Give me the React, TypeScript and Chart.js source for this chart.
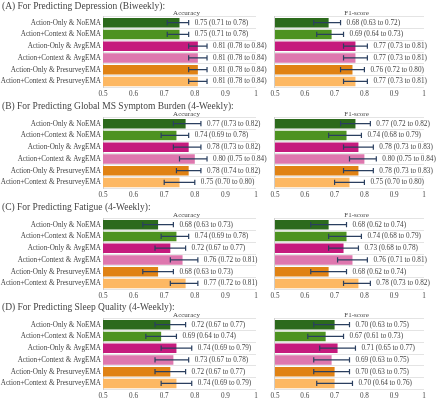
import React, { useEffect, useRef } from 'react';
import { Chart, registerables } from 'chart.js';

Chart.register(...registerables);

// ---------- data ----------
const categories = [
  'Action-Only & NoEMA',
  'Action+Context & NoEMA',
  'Action-Only & AvgEMA',
  'Action+Context & AvgEMA',
  'Action-Only & PresurveyEMA',
  'Action+Context & PresurveyEMA',
];
const barColors = ['#2c6a1c', '#4d9221', '#c51b7d', '#de77ae', '#e08214', '#fdb863'];
const xTickValues = [0.5, 0.6, 0.7, 0.8, 0.9, 1];
const panelTitles = [
  '(A) For Predicting Depression (Biweekly):',
  '(B) For Predicting Global MS Symptom Burden (4-Weekly):',
  '(C) For Predicting Fatigue (4-Weekly):',
  '(D) For Predicting Sleep Quality (4-Weekly):',
];
const metricTitles = ['Accuracy', 'F1-score'];

// (A) Depression
const depressionAcc = [0.75, 0.75, 0.81, 0.81, 0.81, 0.81];
const depressionAccLow = [0.71, 0.71, 0.78, 0.78, 0.78, 0.78];
const depressionAccHigh = [0.78, 0.78, 0.84, 0.84, 0.84, 0.84];
const depressionF1 = [0.68, 0.69, 0.77, 0.77, 0.76, 0.77];
const depressionF1Low = [0.63, 0.64, 0.73, 0.73, 0.72, 0.73];
const depressionF1High = [0.72, 0.73, 0.81, 0.81, 0.8, 0.81];

// (B) Global MS symptom burden
const burdenAcc = [0.77, 0.74, 0.78, 0.8, 0.78, 0.75];
const burdenAccLow = [0.73, 0.69, 0.73, 0.75, 0.74, 0.7];
const burdenAccHigh = [0.82, 0.78, 0.82, 0.84, 0.82, 0.8];
const burdenF1 = [0.77, 0.74, 0.78, 0.8, 0.78, 0.75];
const burdenF1Low = [0.72, 0.68, 0.73, 0.75, 0.73, 0.7];
const burdenF1High = [0.82, 0.79, 0.83, 0.84, 0.83, 0.8];

// (C) Fatigue
const fatigueAcc = [0.68, 0.74, 0.72, 0.76, 0.68, 0.77];
const fatigueAccLow = [0.63, 0.69, 0.67, 0.72, 0.63, 0.72];
const fatigueAccHigh = [0.73, 0.78, 0.77, 0.81, 0.73, 0.81];
const fatigueF1 = [0.68, 0.74, 0.73, 0.76, 0.68, 0.78];
const fatigueF1Low = [0.62, 0.68, 0.68, 0.71, 0.62, 0.73];
const fatigueF1High = [0.74, 0.79, 0.78, 0.81, 0.74, 0.82];

// (D) Sleep quality
const sleepAcc = [0.72, 0.69, 0.74, 0.73, 0.72, 0.74];
const sleepAccLow = [0.67, 0.64, 0.69, 0.67, 0.67, 0.69];
const sleepAccHigh = [0.77, 0.74, 0.79, 0.78, 0.77, 0.79];
const sleepF1 = [0.7, 0.67, 0.71, 0.69, 0.7, 0.7];
const sleepF1Low = [0.63, 0.61, 0.65, 0.63, 0.63, 0.64];
const sleepF1High = [0.75, 0.73, 0.77, 0.75, 0.75, 0.76];

const panels = [
  { acc: [depressionAcc, depressionAccLow, depressionAccHigh], f1: [depressionF1, depressionF1Low, depressionF1High] },
  { acc: [burdenAcc, burdenAccLow, burdenAccHigh], f1: [burdenF1, burdenF1Low, burdenF1High] },
  { acc: [fatigueAcc, fatigueAccLow, fatigueAccHigh], f1: [fatigueF1, fatigueF1Low, fatigueF1High] },
  { acc: [sleepAcc, sleepAccLow, sleepAccHigh], f1: [sleepF1, sleepF1Low, sleepF1High] },
];

// ---------- layout / style ----------
const FONT = "'Liberation Serif', 'Times New Roman', serif";
const TEXT = '#444';
const ERR = '#2a3f5f';
const panelTops = [0, 101, 202, 302];
const PANEL_H = 100;
const LEFT_W = 268;
const RIGHT_X = 268;
const RIGHT_W = 172;

type PanelProps = {
  values: number[];
  low: number[];
  high: number[];
  isLeft: boolean;
  subtitle: string;
  title?: string;
  titleY: number;
  x: number;
  y: number;
  w: number;
};

function BarPanel(props: PanelProps) {
  const ref = useRef<HTMLCanvasElement | null>(null);
  useEffect(() => {
    const canvas = ref.current;
    if (!canvas) return;
    const { values, low, high, isLeft, subtitle, title, titleY } = props;
    const overlay = {
      id: 'overlay',
      afterDatasetsDraw(chart: any) {
        const ctx = chart.ctx as CanvasRenderingContext2D;
        const xs = chart.scales.x;
        const meta = chart.getDatasetMeta(0);
        ctx.save();
        meta.data.forEach((bar: any, i: number) => {
          const y = bar.y;
          const x1 = xs.getPixelForValue(low[i]);
          const x2 = xs.getPixelForValue(high[i]);
          ctx.strokeStyle = ERR;
          ctx.lineWidth = 1.2;
          ctx.beginPath();
          ctx.moveTo(x1, y);
          ctx.lineTo(x2, y);
          ctx.moveTo(x1, y - 2.6);
          ctx.lineTo(x1, y + 2.6);
          ctx.moveTo(x2, y - 2.6);
          ctx.lineTo(x2, y + 2.6);
          ctx.stroke();
          ctx.fillStyle = TEXT;
          ctx.font = `7.2px ${FONT}`;
          ctx.textAlign = 'left';
          ctx.textBaseline = 'middle';
          ctx.fillText(
            `${values[i].toFixed(2)} (${low[i].toFixed(2)} to ${high[i].toFixed(2)})`,
            x2 + 6,
            y
          );
        });
        const ca = chart.chartArea;
        ctx.fillStyle = TEXT;
        ctx.font = `7px ${FONT}`;
        ctx.textAlign = 'center';
        ctx.textBaseline = 'middle';
        ctx.fillText(subtitle, (ca.left + ca.right) / 2 + 7, ca.top - 4);
        if (title) {
          ctx.font = `9.5px ${FONT}`;
          ctx.textAlign = 'left';
          ctx.fillText(title, 2, titleY);
        }
        ctx.restore();
      },
    };
    const chart = new Chart(canvas, {
      type: 'bar',
      data: {
        labels: categories,
        datasets: [
          {
            data: values,
            backgroundColor: barColors,
            borderWidth: 0,
            barPercentage: 0.8,
            categoryPercentage: 1,
          },
        ],
      },
      options: {
        indexAxis: 'y',
        animation: false,
        responsive: false,
        maintainAspectRatio: false,
        layout: { padding: { top: 16.8, right: isLeft ? 12 : 16, bottom: 0, left: 0 } },
        plugins: {
          legend: { display: false },
          tooltip: { enabled: false },
          title: { display: false },
        },
        scales: {
          x: {
            type: 'linear',
            min: 0.5,
            max: 1,
            afterBuildTicks: (s: any) => {
              s.ticks = xTickValues.map((v) => ({ value: v }));
            },
            afterFit: (s: any) => {
              s.height = 12.7;
            },
            grid: { display: false, drawTicks: false },
            border: { display: false },
            ticks: {
              padding: 2.5,
              maxRotation: 0,
              autoSkip: false,
              color: TEXT,
              font: { family: FONT, size: 7.2 },
              callback: (v: any) => (Number(v) === 1 ? '1' : Number(v).toFixed(1)),
            },
          },
          y: {
            type: 'category',
            afterFit: (s: any) => {
              s.width = isLeft ? 103 : 4;
            },
            grid: { offset: true, color: '#e4e4e4', lineWidth: 1, drawTicks: false },
            border: { display: true, color: '#cfcfcf', width: 1 },
            ticks: {
              display: isLeft,
              padding: 2,
              autoSkip: false,
              color: TEXT,
              font: { family: FONT, size: 7.2 },
            },
          },
        },
      } as any,
      plugins: [overlay],
    });
    return () => chart.destroy();
  }, []);
  return (
    <canvas
      ref={ref}
      width={props.w}
      height={PANEL_H}
      style={{
        position: 'absolute',
        left: props.x,
        top: props.y,
        width: props.w,
        height: PANEL_H,
      }}
    />
  );
}

export default function App() {
  return (
    <div
      style={{
        position: 'fixed',
        left: 0,
        top: 0,
        width: 440,
        height: 401,
        overflow: 'hidden',
        background: '#fff',
      }}
    >
      {panels.map((p, k) => (
        <React.Fragment key={k}>
          <BarPanel
            values={p.acc[0]}
            low={p.acc[1]}
            high={p.acc[2]}
            isLeft={true}
            subtitle={metricTitles[0]}
            title={panelTitles[k]}
            titleY={k === 0 ? 6.5 : 5.5}
            x={0}
            y={panelTops[k]}
            w={LEFT_W}
          />
          <BarPanel
            values={p.f1[0]}
            low={p.f1[1]}
            high={p.f1[2]}
            isLeft={false}
            subtitle={metricTitles[1]}
            titleY={0}
            x={RIGHT_X}
            y={panelTops[k]}
            w={RIGHT_W}
          />
        </React.Fragment>
      ))}
    </div>
  );
}
